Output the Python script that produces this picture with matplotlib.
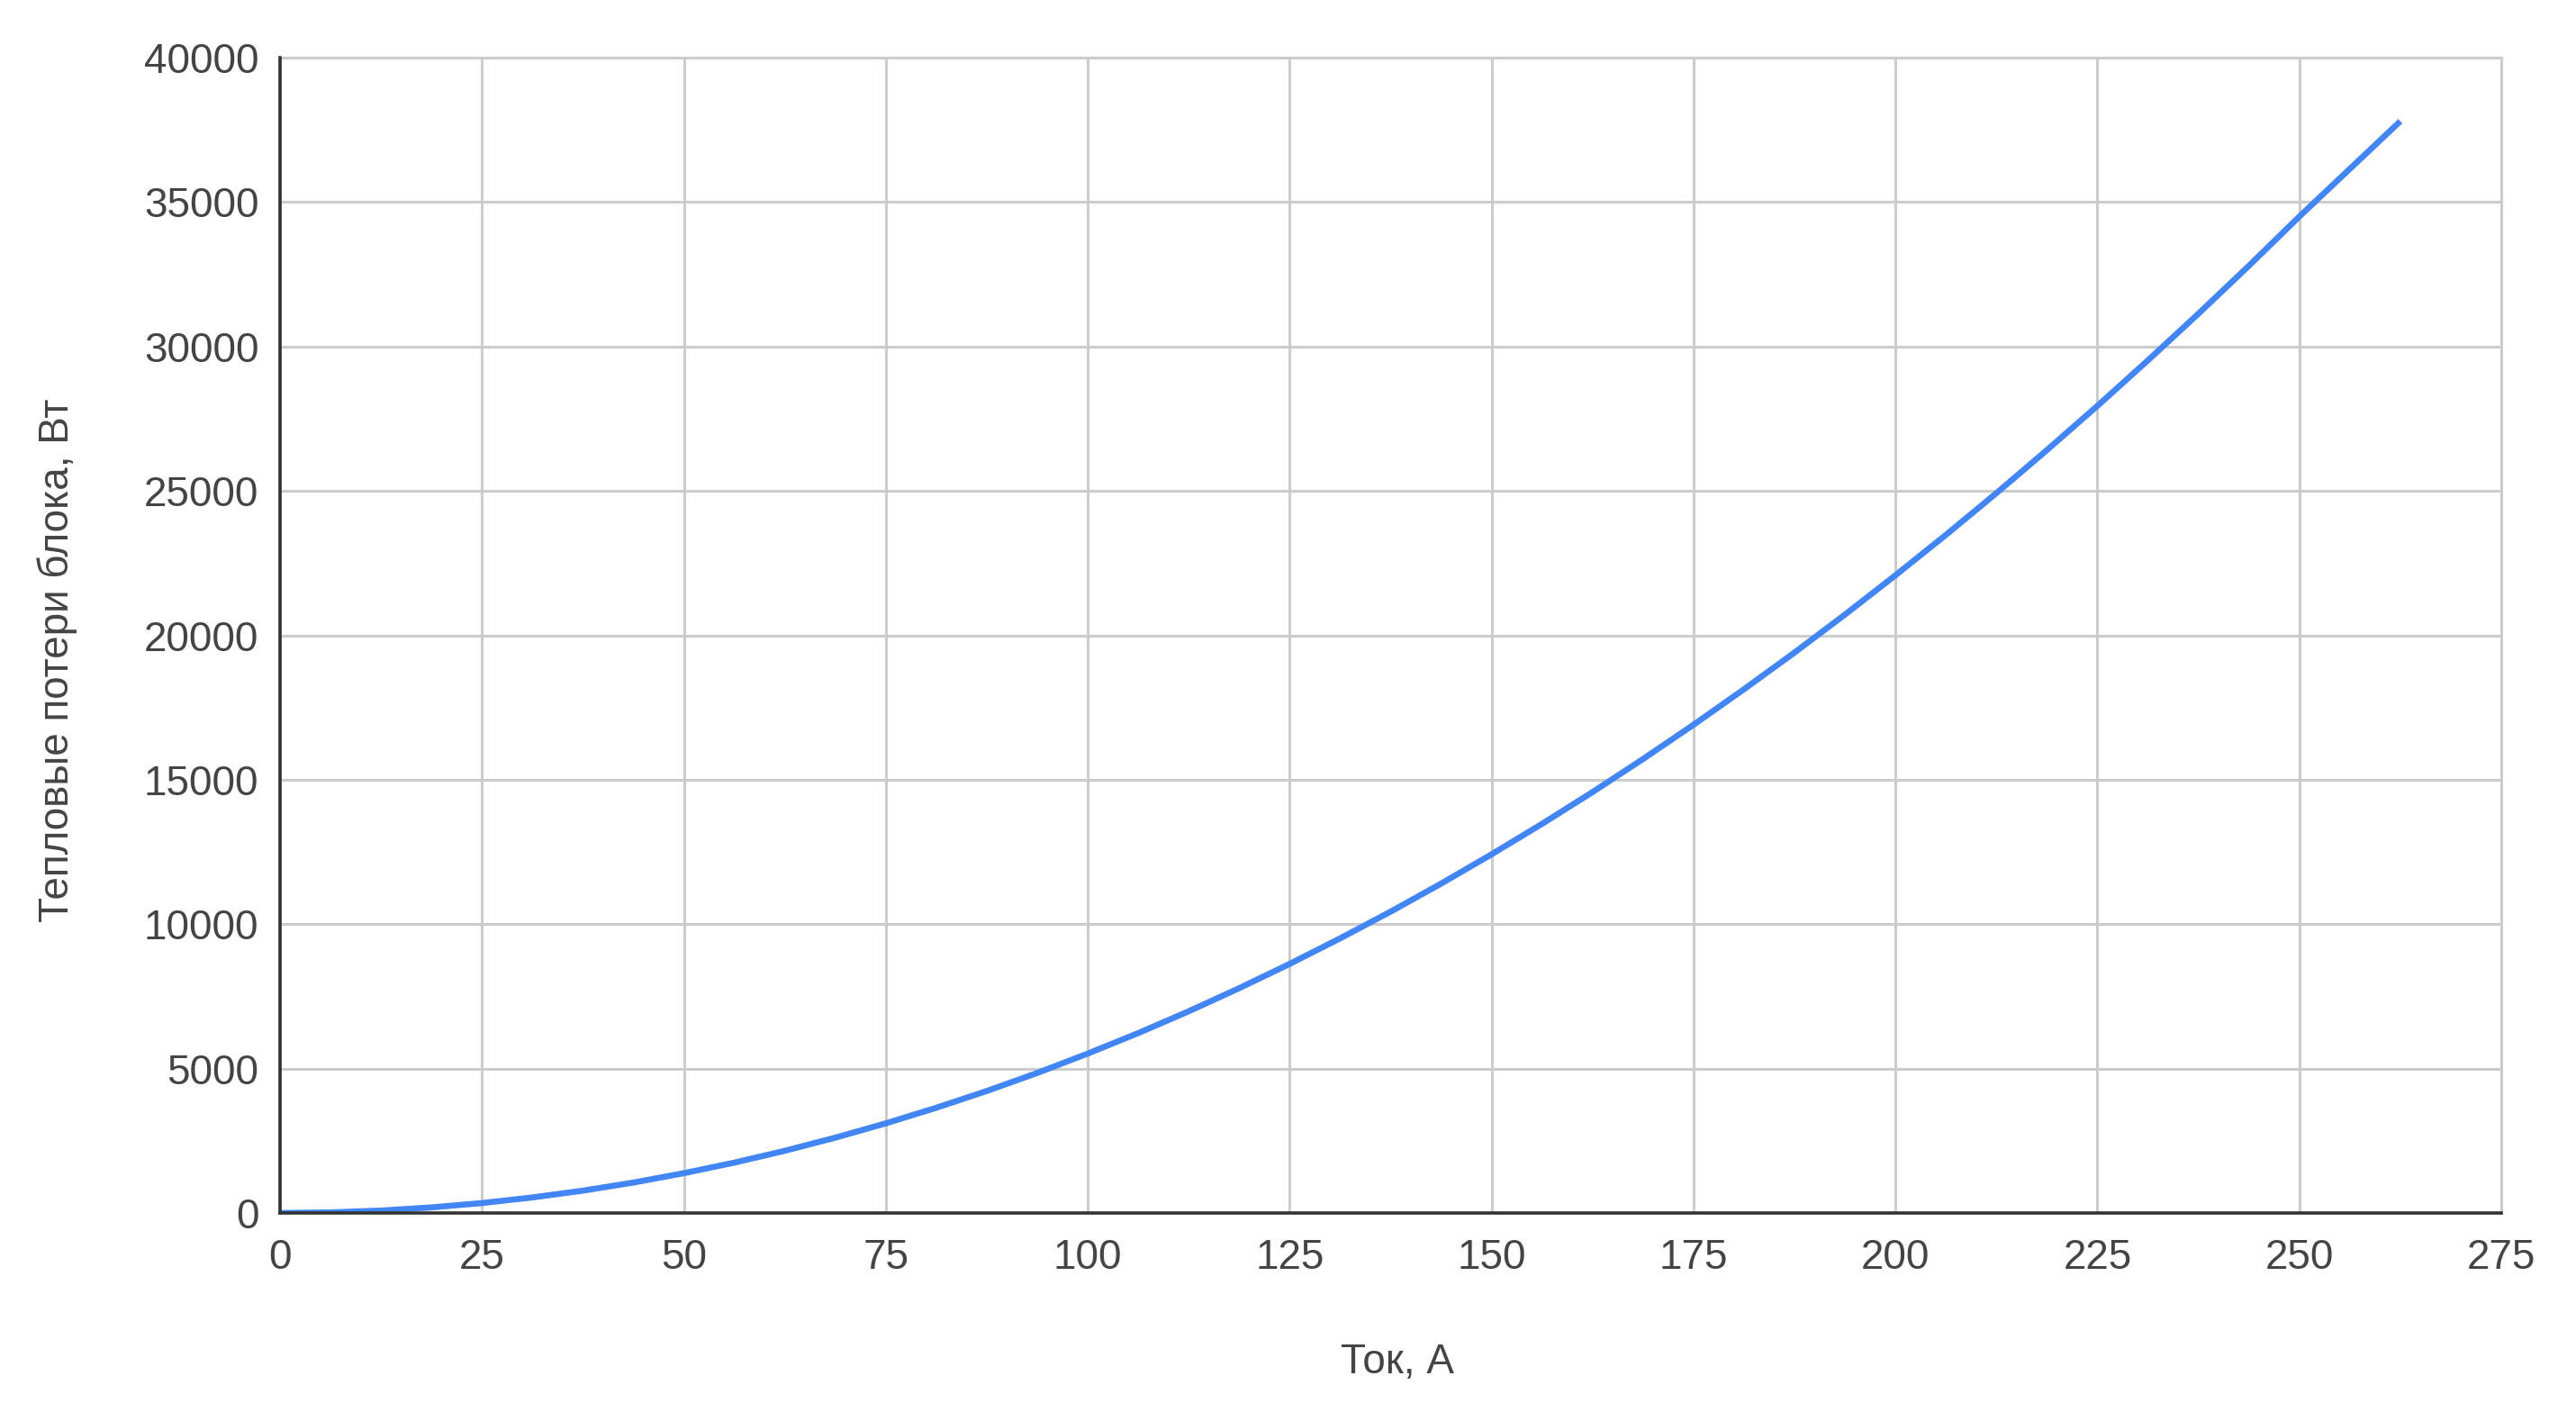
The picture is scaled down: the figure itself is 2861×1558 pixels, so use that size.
import numpy as np
import matplotlib
matplotlib.use("Agg")
import matplotlib.pyplot as plt

# Current, A
current = [0, 6.25, 12.5, 18.75, 25, 31.25, 37.5, 43.75, 50, 56.25, 62.5, 68.75,
           75, 81.25, 87.5, 93.75, 100, 106.25, 112.5, 118.75, 125, 131.25,
           137.5, 143.75, 150, 156.25, 162.5, 168.75, 175, 181.25, 187.5, 193.75,
           200, 206.25, 212.5, 218.75, 225, 231.25, 237.5, 243.75, 250, 256.25,
           262.5]
# Heat losses of the block, W
losses = [0, 22, 85, 195, 345, 540, 775, 1055, 1380, 1745, 2155, 2610,
          3105, 3645, 4225, 4850, 5520, 6230, 6985, 7785, 8625, 9510,
          10435, 11405, 12420, 13475, 14575, 15720, 16905, 18135, 19405, 20720,
          22080, 23480, 24925, 26415, 27945, 29520, 31135, 32795, 34500, 36150,
          37800]

x_ticks = [0, 25, 50, 75, 100, 125, 150, 175, 200, 225, 250, 275]
y_ticks = [0, 5000, 10000, 15000, 20000, 25000, 30000, 35000, 40000]

x_label = "Ток, А"
y_label = "Тепловые потери блока, Вт"

plt.rcParams['font.family'] = ['Liberation Sans', 'DejaVu Sans']
text_color = '#444444'
fs = 33

fig = plt.figure(figsize=(28.61, 15.58), dpi=100)
ax = fig.add_axes([0.1087, 0.1354, 0.971 - 0.1087, 0.9589 - 0.1354])

ax.plot(current, losses, color='#4285F4', linewidth=4.8,
        solid_capstyle='butt', solid_joinstyle='round', zorder=3)

ax.set_xlim(0, 275)
ax.set_ylim(0, 40000)
ax.set_xticks(x_ticks)
ax.set_yticks(y_ticks)
ax.grid(True, color='#cccccc', linewidth=2.2)
ax.set_axisbelow(True)

for side in ['top', 'right']:
    ax.spines[side].set_color('#cccccc')
    ax.spines[side].set_linewidth(2.2)
for side in ['left', 'bottom']:
    ax.spines[side].set_color('#333333')
    ax.spines[side].set_linewidth(2.6)
    ax.spines[side].set_zorder(4)

ax.tick_params(axis='both', length=0, labelsize=fs, labelcolor=text_color)
ax.tick_params(axis='x', pad=20)
ax.tick_params(axis='y', pad=17)

fig.text(0.5425, 0.029, x_label, ha='center', va='center', fontsize=fs, color=text_color)
fig.text(0.0224, 0.5295, y_label, ha='center', va='center', rotation=90, fontsize=fs, color=text_color)

fig.savefig("out.png", dpi=100, facecolor='white')
